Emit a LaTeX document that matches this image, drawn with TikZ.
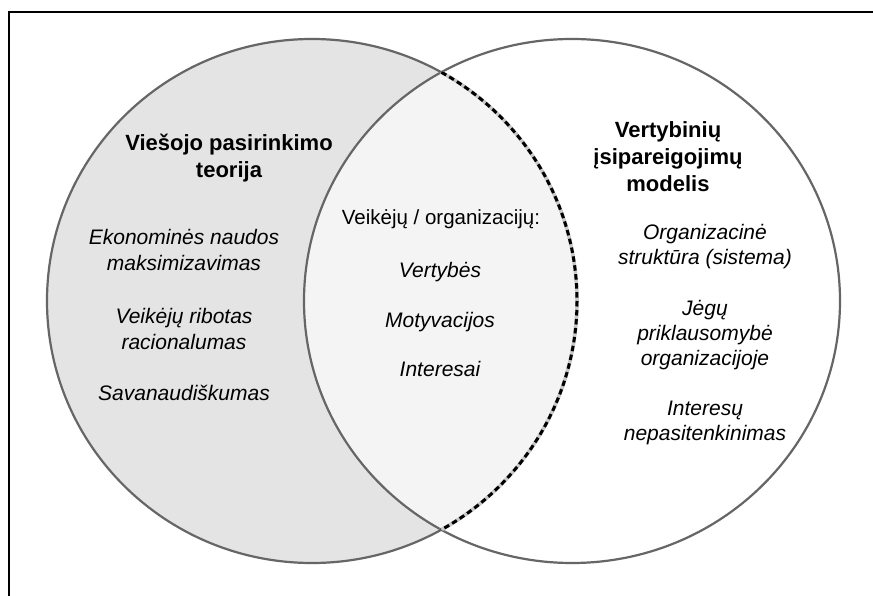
\documentclass[tikz,border=0pt]{standalone}
\usepackage{fontspec}
\setmainfont{Liberation Sans}
\begin{document}
\begin{tikzpicture}[x=1pt,y=-1pt,
  outl/.style={draw=circgray,line width=2.2pt},
  ttl/.style={anchor=base,inner sep=0pt,font=\fontsize{22}{27}\selectfont\bfseries},
  itl/.style={anchor=base,inner sep=0pt,font=\fontsize{21}{26}\selectfont\itshape},
  reg/.style={anchor=base,inner sep=0pt,font=\fontsize{20.5}{25}\selectfont}]
\definecolor{circgray}{HTML}{666666}
\definecolor{leftfill}{HTML}{E4E4E4}
\definecolor{midfill}{HTML}{F4F4F4}
\definecolor{dashbg}{HTML}{C8C8C8}
\useasboundingbox (0,0) rectangle (873,596);
\fill[white] (0,0) rectangle (873,596);
% frame (top and left edges)
\coordinate (fbl) at (8.5,596);
\coordinate (ftl) at (8.5,12);
\coordinate (ftr) at (873,12);
\draw[black,line width=2pt] (fbl) -- (ftl) -- (ftr);
% circles
\coordinate (lc) at (312,301);
\coordinate (rc) at (572,301);
\def\leftell{(lc) ellipse [x radius=265,y radius=262]}
\def\rightell{(rc) ellipse [x radius=268,y radius=262]}
\fill[leftfill] \leftell;
\begin{scope}
  \clip \leftell;
  \fill[midfill] \rightell;
\end{scope}
\draw[outl] \rightell;
\begin{scope}[even odd rule]
  \clip (-10,-10) rectangle (900,620) \rightell;
  \draw[outl] \leftell;
\end{scope}
\begin{scope}
  \clip \rightell;
  \draw[dashbg,line width=3.6pt] \leftell;
  \draw[black,line width=3pt,dash pattern=on 5.5pt off 3.5pt] \leftell;
\end{scope}
% left texts
\node[ttl] (l1) at (229,151) {Viešojo pasirinkimo};
\node[ttl] (l2) at (229,178) {teorija};
\node[itl] (l3) at (184,244) {Ekonominės naudos};
\node[itl] (l4) at (184,270) {maksimizavimas};
\node[itl] (l5) at (184,323) {Veikėjų ribotas};
\node[itl] (l6) at (184,349) {racionalumas};
\node[itl] (l7) at (184,400) {Savanaudiškumas};
% middle texts
\node[reg] (m1) at (441,225) {Veikėjų / organizacijų:};
\node[itl] (m2) at (440,277) {Vertybės};
\node[itl] (m3) at (440,327) {Motyvacijos};
\node[itl] (m4) at (440,376) {Interesai};
% right texts
\node[ttl] (r1) at (668,138) {Vertybinių};
\node[ttl] (r2) at (668,165) {įsipareigojimų};
\node[ttl] (r3) at (668,192) {modelis};
\node[itl] (r4) at (705,240) {Organizacinė};
\node[itl] (r5) at (705,265) {struktūra (sistema)};
\node[itl] (r6) at (705,315) {Jėgų};
\node[itl] (r7) at (705,340) {priklausomybė};
\node[itl] (r8) at (705,365) {organizacijoje};
\node[itl] (r9) at (705,415) {Interesų};
\node[itl] (r10) at (705,440) {nepasitenkinimas};
\end{tikzpicture}
\end{document}
